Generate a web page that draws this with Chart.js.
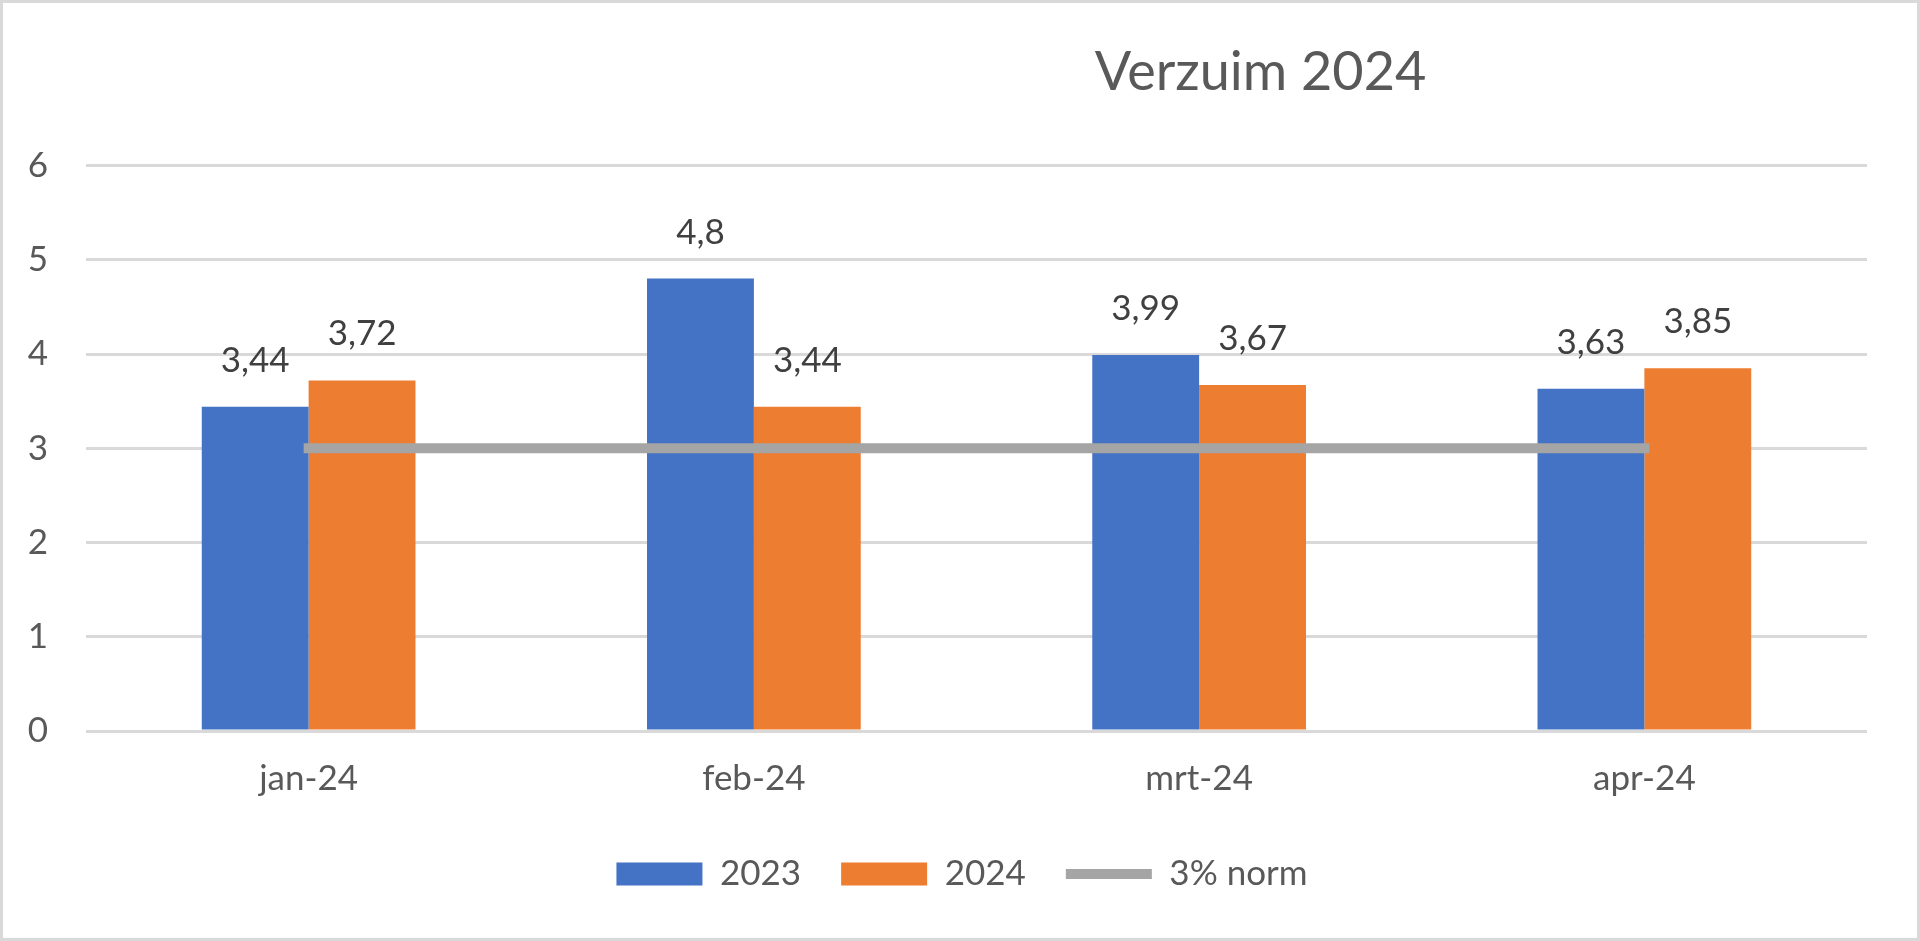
<!DOCTYPE html>
<html>
<head>
<meta charset="utf-8">
<script src="https://cdn.jsdelivr.net/npm/chart.js@4.4.1/dist/chart.umd.min.js"></script>
<style>
  html, body { margin: 0; padding: 0; background: #ffffff; }
  #wrap { position: relative; width: 1920px; height: 941px; overflow: hidden; }
  #c { position: absolute; left: 0; top: 0; }
  #frame { position: absolute; left: 0; top: 0; width: 1920px; height: 941px; box-sizing: border-box; border: 3px solid #D9D9D9; pointer-events: none; }
</style>
</head>
<body>
<div id="wrap">
  <canvas id="c" width="1920" height="941"></canvas>
  <div id="frame"></div>
</div>
<script>
const chartTitle = 'Verzuim 2024';
const categories = ['jan-24', 'feb-24', 'mrt-24', 'apr-24'];
const seriesNames = ['2023', '2024', '3% norm'];
const values2023 = [3.44, 4.8, 3.99, 3.63];
const values2024 = [3.72, 3.44, 3.67, 3.85];
const normValues = [3, 3, 3, 3];
const yTicks = [0, 1, 2, 3, 4, 5, 6];

const FONT = 'Lato, "Open Sans", sans-serif';
const AXIS_COLOR = '#595959';
const LABEL_COLOR = '#404040';
const BLUE = '#4472C4';
const ORANGE = '#ED7D31';
const GREY = '#A5A5A5';

function fmt(v) { return String(v).replace('.', ','); }

const titlePlugin = {
  id: 'excelTitle',
  afterDraw(chart) {
    const ctx = chart.ctx;
    ctx.save();
    ctx.font = '54px ' + FONT;
    ctx.fillStyle = AXIS_COLOR;
    ctx.textAlign = 'center';
    ctx.textBaseline = 'alphabetic';
    ctx.fillText(chartTitle, chart.width * 0.6565, 90);
    ctx.restore();
  }
};

const dataLabelPlugin = {
  id: 'barLabels',
  afterDatasetsDraw(chart) {
    const ctx = chart.ctx;
    ctx.save();
    ctx.font = '35px ' + FONT;
    ctx.fillStyle = LABEL_COLOR;
    ctx.textAlign = 'center';
    ctx.textBaseline = 'alphabetic';
    chart.data.datasets.forEach((ds, di) => {
      if (ds.type === 'line') return;
      const meta = chart.getDatasetMeta(di);
      meta.data.forEach((el, i) => {
        ctx.fillText(fmt(ds.data[i]), el.x, el.y - 35);
      });
    });
    ctx.restore();
  }
};

new Chart(document.getElementById('c'), {
  type: 'bar',
  data: {
    labels: categories,
    datasets: [
      { label: seriesNames[0], data: values2023, backgroundColor: BLUE, borderWidth: 0, order: 1,
        categoryPercentage: 0.48, barPercentage: 1.0 },
      { label: seriesNames[1], data: values2024, backgroundColor: ORANGE, borderWidth: 0, order: 1,
        categoryPercentage: 0.48, barPercentage: 1.0 },
      { type: 'line', label: seriesNames[2], data: normValues, borderColor: GREY, backgroundColor: GREY,
        borderWidth: 10, pointRadius: 0, pointHoverRadius: 0, borderCapStyle: 'square', order: 0, fill: false, tension: 0 }
    ]
  },
  options: {
    responsive: false,
    devicePixelRatio: 1,
    animation: false,
    layout: { padding: { left: 4, right: 0, top: 165.5, bottom: 39.5 } },
    plugins: {
      title: { display: false },
      tooltip: { enabled: false },
      legend: {
        position: 'bottom',
        labels: {
          usePointStyle: true,
          pointStyleWidth: 86,
          boxHeight: 23,
          padding: 40,
          color: AXIS_COLOR,
          font: { family: FONT, size: 35 },
          generateLabels(chart) {
            return chart.data.datasets.map((ds, i) => ({
              text: ds.label,
              datasetIndex: i,
              fillStyle: ds.type === 'line' ? ds.borderColor : ds.backgroundColor,
              strokeStyle: ds.type === 'line' ? ds.borderColor : ds.backgroundColor,
              lineWidth: ds.type === 'line' ? 10 : 0,
              pointStyle: ds.type === 'line' ? 'line' : 'rect',
              lineCap: 'butt',
              fontColor: AXIS_COLOR,
              hidden: false
            }));
          }
        }
      }
    },
    scales: {
      x: {
        grid: { display: false, drawTicks: false },
        border: { display: false },
        ticks: { color: AXIS_COLOR, font: { family: FONT, size: 35 }, padding: 27, maxRotation: 0 },
        afterFit(scale) { scale.height = 85.5; }
      },
      y: {
        min: yTicks[0],
        max: yTicks[yTicks.length - 1],
        afterBuildTicks(scale) { scale.ticks = yTicks.map(v => ({ value: v })); },
        grid: { color: '#D9D9D9', lineWidth: 3, drawTicks: false },
        border: { display: false },
        ticks: { color: AXIS_COLOR, font: { family: FONT, size: 35 }, padding: 38 },
        afterFit(scale) { scale.width = 82; }
      },
      yRight: {
        position: 'right',
        display: true,
        grid: { display: false, drawTicks: false },
        border: { display: false },
        ticks: { display: false },
        afterFit(scale) { scale.width = 53; }
      }
    }
  },
  plugins: [titlePlugin, dataLabelPlugin]
});
</script>
</body>
</html>
